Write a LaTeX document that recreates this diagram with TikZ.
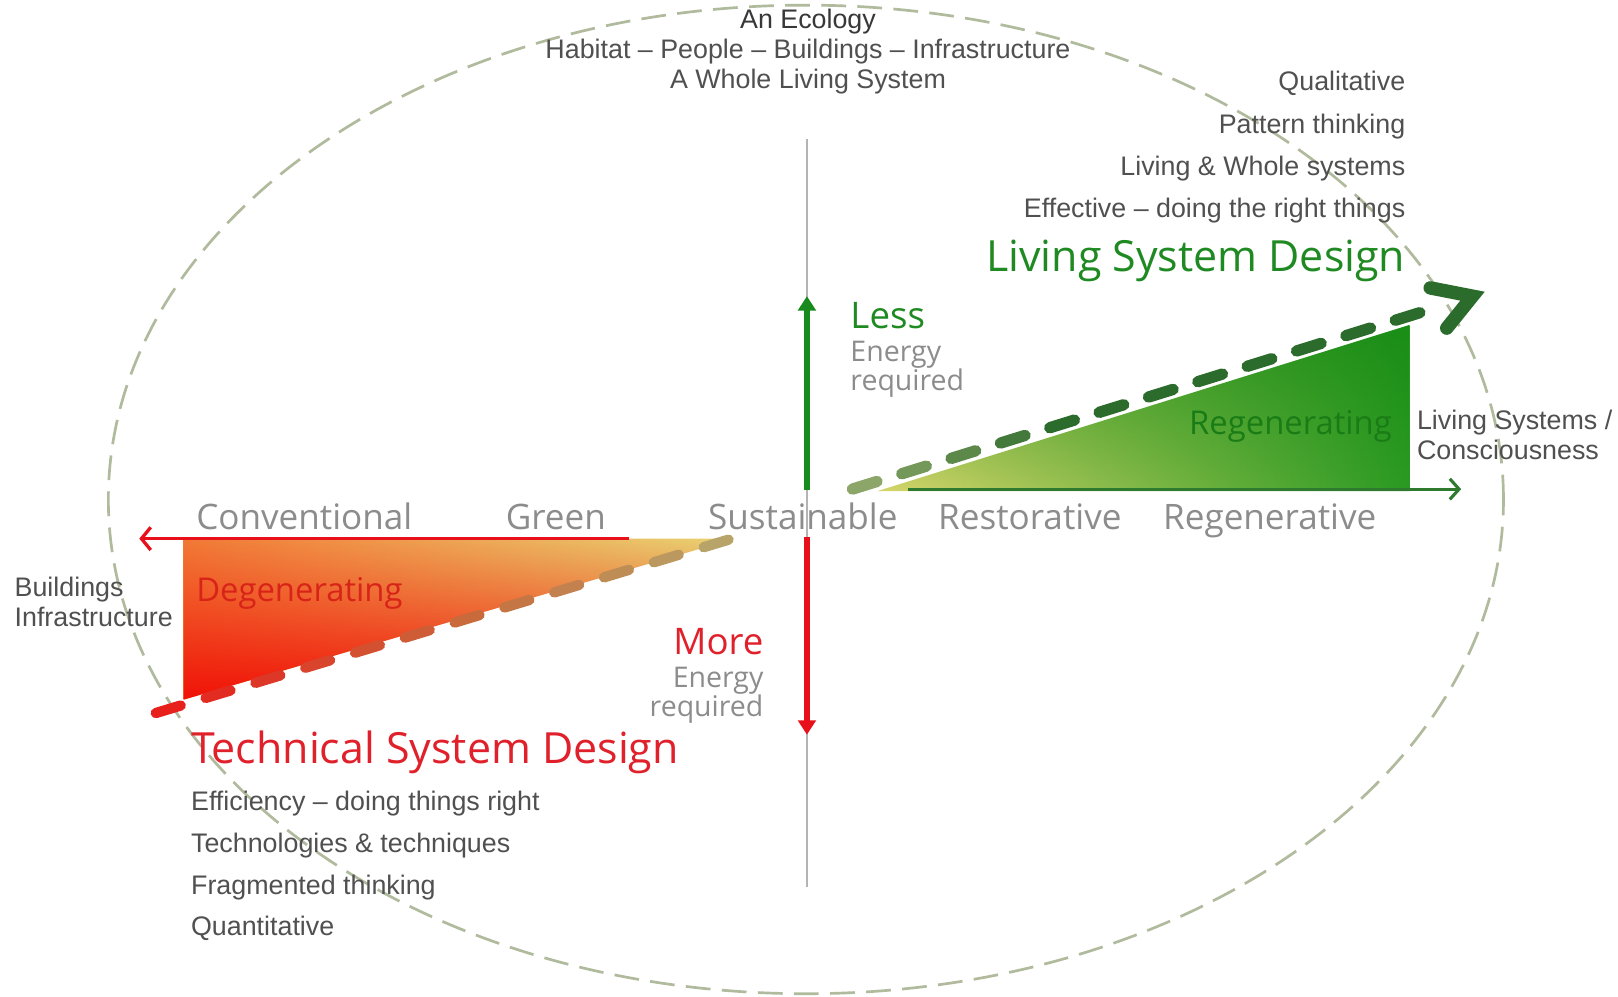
\documentclass[tikz,border=0pt]{standalone}
\usepackage{fontspec}
\setmainfont{Liberation Sans}
\newfontfamily\seg{Open Sans}
\usetikzlibrary{arrows.meta,calc,fadings}
\definecolor{ellc}{HTML}{B0BA9C}
\definecolor{txtg}{HTML}{505050}
\definecolor{txtd}{HTML}{383838}
\definecolor{stg}{HTML}{8C8C8C}
\definecolor{gtitle}{HTML}{1F8A22}
\definecolor{regc}{HTML}{1A7C16}
\definecolor{rtitle}{HTML}{E0202A}
\definecolor{degc}{HTML}{D82418}
\definecolor{garr}{HTML}{188A1E}
\definecolor{garrh}{HTML}{2E7A2E}
\definecolor{rarr}{HTML}{E8101A}
\definecolor{vline}{HTML}{B4B4B4}
\definecolor{rdA}{HTML}{E8201C}
\definecolor{rdM}{HTML}{C86A3C}
\definecolor{rdB}{HTML}{B8A468}
\definecolor{gdA}{HTML}{8CA66A}
\definecolor{gdB}{HTML}{2B6B2B}
\definecolor{triY}{HTML}{E8D474}
\definecolor{triO}{HTML}{F27A36}
\definecolor{triR}{HTML}{F01208}
\definecolor{gtY}{HTML}{D8D66C}
\definecolor{gtM}{HTML}{80BA3C}
\definecolor{gtG}{HTML}{2A9A22}
\definecolor{gtD}{HTML}{128812}
\tikzfading[name=fadeup, top color=transparent!100, bottom color=transparent!0]
\tikzfading[name=fadedown, top color=transparent!0, bottom color=transparent!100]
\tikzset{
  arialtxt/.style={inner sep=0pt, font=\fontsize{26}{28}\selectfont, text=txtg},
  stagetxt/.style={inner sep=0pt, font=\seg\fontsize{34}{36}\selectfont, text=stg},
  energytxt/.style={inner sep=0pt, font=\seg\fontsize{27.6}{29}\selectfont, text=stg},
  bigtitle/.style={inner sep=0pt, font=\seg\fontsize{41.6}{44}\selectfont},
  midtitle/.style={inner sep=0pt, font=\seg\fontsize{31.8}{34}\selectfont},
  lmtitle/.style={inner sep=0pt, font=\seg\fontsize{35.5}{38}\selectfont},
}
\begin{document}
\begin{tikzpicture}[x=1pt,y=-1pt]
\useasboundingbox (0,0) rectangle (1568,966);
\fill[white] (0,0) rectangle (1568,966);

% ellipse
\draw[ellc, line width=2.6pt, dash pattern=on 24pt off 11pt] (781,484) ellipse [x radius=676pt, y radius=479pt];

% vertical grey line
\coordinate (vtop) at (782,135);
\coordinate (vbot) at (782,860);
\draw[vline, line width=1.6pt] (vtop) -- (vbot);

% red triangle
\coordinate (rt1) at (178,522);
\coordinate (rt2) at (712,522);
\coordinate (rt3) at (178,678);
\path[left color=triO, middle color=triO!55!triY, right color=triY] (rt1) -- (rt2) -- (rt3) -- cycle;
\fill[triR, path fading=fadeup] (rt1) -- (rt2) -- (rt3) -- cycle;

% green triangle
\coordinate (gt1) at (850,476);
\coordinate (gt2) at (1366,476);
\coordinate (gt3) at (1366,315);
\path[left color=gtY, middle color=gtM, right color=gtG] (gt1) -- (gt2) -- (gt3) -- cycle;
\fill[gtD, path fading=fadedown, fill opacity=0.7] (gt1) -- (gt2) -- (gt3) -- cycle;

% horizontal arrows
\coordinate (rhs) at (610,522);
\coordinate (rhe) at (135,522);
\draw[rarr, line width=3.2pt, -{Straight Barb[length=9pt,width=22pt]}] (rhs) -- (rhe);
\coordinate (ghs) at (880,474);
\coordinate (ghe) at (1416,474);
\draw[garrh, line width=3pt, -{Straight Barb[length=9pt,width=20pt]}] (ghs) -- (ghe);

% vertical arrows
\coordinate (gvs) at (782,475);
\coordinate (gve) at (782,287);
\draw[garr, line width=5pt, -{Triangle[length=14pt,width=17pt]}] (gvs) -- (gve);
\coordinate (rvs) at (782,520);
\coordinate (rve) at (782,712);
\draw[rarr, line width=5pt, -{Triangle[length=14pt,width=17pt]}] (rvs) -- (rve);

% red dashed gradient line
\coordinate (rdL) at (151,691);
\coordinate (rdR) at (706,523);
\foreach \i in {0,...,11}{
  \pgfmathsetmacro\ta{\i/11.5}
  \pgfmathsetmacro\tb{(\i+0.5)/11.5}
  \ifnum\i<6
    \pgfmathtruncatemacro\pc{100*\i/6}
    \colorlet{dcol}{rdM!\pc!rdA}
  \else
    \pgfmathtruncatemacro\pc{100*(\i-6)/5}
    \colorlet{dcol}{rdB!\pc!rdM}
  \fi
  \draw[dcol, line width=10pt, line cap=round] ($(rdL)!\ta!(rdR)$) -- ($(rdL)!\tb!(rdR)$);
}

% green dashed gradient line
\coordinate (gdL) at (826,474);
\coordinate (gdR) at (1376,303);
\foreach \i in {0,...,11}{
  \pgfmathsetmacro\ta{\i/11.5}
  \pgfmathsetmacro\tb{(\i+0.5)/11.5}
  \ifnum\i<4
    \pgfmathtruncatemacro\pc{100*\i/4}
    \colorlet{dcol}{gdB!\pc!gdA}
  \else
    \colorlet{dcol}{gdB}
  \fi
  \draw[dcol, line width=11pt, line cap=round] ($(gdL)!\ta!(gdR)$) -- ($(gdL)!\tb!(gdR)$);
}
% big green chevron
\coordinate (ch1) at (1386,279);
\coordinate (cht) at (1427,287);
\coordinate (ch2) at (1402,318);
\draw[gdB, line width=13pt, line cap=round, line join=miter] (ch1) -- (cht) -- (ch2);

% top texts
\node[arialtxt, text=txtd, anchor=base] (eco) at (783,28) {An Ecology};
\node[arialtxt, anchor=base] (hab) at (783,57) {Habitat – People – Buildings – Infrastructure};
\node[arialtxt, anchor=base] (whole) at (783,86) {A Whole Living System};

% right list
\node[arialtxt, anchor=base east] (qual) at (1362,88) {Qualitative};
\node[arialtxt, anchor=base east] (patt) at (1362,129) {Pattern thinking};
\node[arialtxt, anchor=base east] (livw) at (1362,170) {Living \& Whole systems};
\node[arialtxt, anchor=base east] (effe) at (1362,211) {Effective – doing the right things};
\node[bigtitle, text=gtitle, anchor=base east] (lsd) at (1362,263) {Living System Design};

% less / more
\node[lmtitle, text=gtitle, anchor=base west] (less) at (824,318) {Less};
\node[energytxt, anchor=base west] (len) at (824,350) {Energy};
\node[energytxt, anchor=base west] (lreq) at (824,378) {required};
\node[lmtitle, text=rtitle, anchor=base east] (more) at (740,634) {More};
\node[energytxt, anchor=base east] (men) at (740,666) {Energy};
\node[energytxt, anchor=base east] (mreq) at (740,694) {required};

% regenerating / degenerating
\node[midtitle, text=regc, anchor=base east] (regen) at (1349,421) {Regenerating};
\node[midtitle, text=degc, anchor=base west] (degen) at (190,583) {Degenerating};

% side labels
\node[arialtxt, anchor=base west] (lsys) at (1373,416) {Living Systems /};
\node[arialtxt, anchor=base west] (cons) at (1373,445) {Consciousness};
\node[arialtxt, anchor=base west] (bld) at (14,578) {Buildings};
\node[arialtxt, anchor=base west] (infra) at (14,607) {Infrastructure};

% stages
\node[stagetxt, anchor=base west] (conv) at (190,513) {Conventional};
\node[stagetxt, anchor=base west] (green) at (490,513) {Green};
\node[stagetxt, anchor=base west] (sust) at (686,513) {Sustainable};
\node[stagetxt, anchor=base west] (rest) at (909,513) {Restorative};
\node[stagetxt, anchor=base west] (rgve) at (1127,513) {Regenerative};

% technical
\node[bigtitle, text=rtitle, anchor=base west] (tsd) at (185,740) {Technical System Design};
\node[arialtxt, anchor=base west] (effi) at (185,785) {Efficiency – doing things right};
\node[arialtxt, anchor=base west] (tech) at (185,826) {Technologies \& techniques};
\node[arialtxt, anchor=base west] (frag) at (185,867) {Fragmented thinking};
\node[arialtxt, anchor=base west] (quan) at (185,907) {Quantitative};
\end{tikzpicture}
\end{document}
